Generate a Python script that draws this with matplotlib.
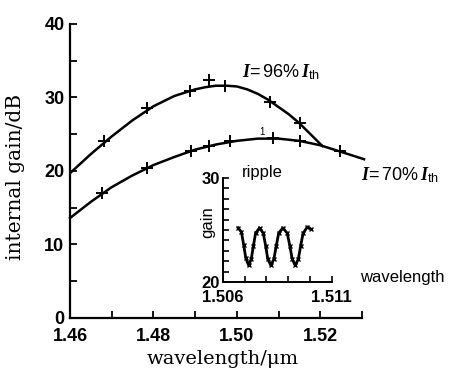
import matplotlib
matplotlib.use('Agg')
import matplotlib.pyplot as plt
from matplotlib.ticker import FixedLocator

plt.rcParams['font.family'] = 'Liberation Sans'
plt.rcParams['mathtext.fontset'] = 'custom'
plt.rcParams['mathtext.it'] = 'Liberation Serif:italic:bold'
plt.rcParams['mathtext.rm'] = 'Liberation Sans'
plt.rcParams['mathtext.bf'] = 'Liberation Sans:bold'

# fitted curves (wavelength in um, gain in dB)
wl_96 = [1.460, 1.465, 1.470, 1.475, 1.480, 1.485, 1.490, 1.4925, 1.495, 1.4975, 1.500,
         1.5025, 1.505, 1.5075, 1.510, 1.5125, 1.515, 1.5175, 1.5205]
gain_96 = [19.7, 22.3, 24.7, 26.9, 28.8, 30.2, 31.1, 31.4, 31.6, 31.6, 31.5,
           31.1, 30.5, 29.7, 28.7, 27.7, 26.5, 25.1, 23.4]
wl_70 = [1.460, 1.465, 1.470, 1.475, 1.480, 1.485, 1.490, 1.495, 1.500, 1.505,
         1.510, 1.515, 1.520, 1.525, 1.5305]
gain_70 = [13.6, 15.8, 17.8, 19.4, 20.8, 21.9, 22.9, 23.6, 24.1, 24.4,
           24.4, 24.1, 23.5, 22.6, 21.6]

# measured points
pts_wl_96 = [1.4682, 1.4785, 1.4888, 1.4934, 1.4972, 1.5080, 1.5152]
pts_gain_96 = [24.1, 28.6, 30.9, 32.4, 31.6, 29.4, 26.5]
pts_wl_70 = [1.4677, 1.4785, 1.4890, 1.4934, 1.4984, 1.5087, 1.5152, 1.5248]
pts_gain_70 = [17.0, 20.4, 22.7, 23.4, 24.1, 24.5, 24.1, 22.7]

# ripple inset
rip_wl = [1.50670, 1.50685, 1.50695, 1.50705, 1.50718, 1.50730, 1.50740, 1.50750,
          1.50768, 1.50785, 1.50796, 1.50806, 1.50820, 1.50834, 1.50845, 1.50856,
          1.50875, 1.50895, 1.50907, 1.50918, 1.50932, 1.50946, 1.50957, 1.50968,
          1.50988, 1.51003]
rip_gain = [25.2, 24.8, 23.6, 22.3, 21.6, 22.2, 23.5, 24.7,
            25.2, 24.7, 23.5, 22.2, 21.6, 22.2, 23.5, 24.7,
            25.2, 24.7, 23.5, 22.2, 21.6, 22.2, 23.5, 24.7,
            25.3, 25.1]

fig = plt.figure(figsize=(4.54, 3.71), dpi=100)
ax = fig.add_axes([0.1542, 0.1429, 0.643, 0.7925])

ax.plot(wl_96, gain_96, color='black', lw=1.8)
ax.plot(wl_70, gain_70, color='black', lw=1.8, clip_on=False)
ax.plot(pts_wl_96, pts_gain_96, '+', color='black', ms=8, mew=1.4)
ax.plot(pts_wl_70, pts_gain_70, '+', color='black', ms=8, mew=1.4)

ax.set_xlim(1.46, 1.53)
ax.set_ylim(0, 40)
ax.set_xticks([1.46, 1.47, 1.48, 1.49, 1.50, 1.51, 1.52, 1.53])
ax.set_xticklabels(['1.46', '', '1.48', '', '1.50', '', '1.52', ''])
ax.set_yticks([0, 5, 10, 15, 20, 25, 30, 35, 40])
ax.set_yticklabels(['0', '', '10', '', '20', '', '30', '', '40'])
ax.tick_params(direction='in', length=5, width=1.3, labelsize=13)
ax.tick_params(axis='x', pad=7)
ax.tick_params(axis='y', pad=4)
for lab in ax.get_xticklabels() + ax.get_yticklabels():
    lab.set_fontweight('bold')
for s in ['top', 'right']:
    ax.spines[s].set_visible(False)
for s in ['left', 'bottom']:
    ax.spines[s].set_linewidth(1.6)

ax.set_ylabel('internal gain/dB', family='DejaVu Serif', fontsize=14.5)
ax.yaxis.set_label_coords(-0.154, 0.48)
ax.set_xlabel('wavelength/\u03bcm', family='DejaVu Serif', fontsize=14)
ax.xaxis.set_label_coords(0.524, -0.11)

ax.text(1.5106, 33.5, r'$I\!=96\%\,I_{\mathrm{th}}$', fontsize=13, ha='center', va='center')
ax.text(1.5392, 19.5, r'$I\!=70\%\,I_{\mathrm{th}}$', fontsize=13, ha='center', va='center')
ax.text(1.5061, 25.3, '1', fontsize=7, ha='center', va='center')

# inset
ins = fig.add_axes([0.491, 0.2399, 0.240, 0.2803])
ins.patch.set_alpha(0)
ins.plot(rip_wl, rip_gain, color='black', lw=2)
ins.plot(rip_wl, rip_gain, 'x', color='black', ms=3, mew=1)
ins.set_xlim(1.506, 1.511)
ins.set_ylim(20, 30)
ins.set_xticks([1.506, 1.507, 1.508, 1.509, 1.510, 1.511])
ins.set_xticklabels(['1.506', '', '', '', '', '1.511'])
ins.yaxis.set_major_locator(FixedLocator(list(range(20, 31))))
ins.set_yticklabels(['20'] + [''] * 9 + ['30'])
ins.tick_params(direction='in', length=4, width=1.2, labelsize=12)
ins.tick_params(axis='x', pad=6)
ins.tick_params(axis='y', pad=2)
for lab in ins.get_xticklabels() + ins.get_yticklabels():
    lab.set_fontweight('bold')
for s in ['top', 'right']:
    ins.spines[s].set_visible(False)
for s in ['left', 'bottom']:
    ins.spines[s].set_linewidth(1.4)
ins.text(0.36, 1.05, 'ripple', transform=ins.transAxes, fontsize=12, ha='center', va='center')
ins.text(-0.14, 0.58, 'gain', transform=ins.transAxes, fontsize=12, ha='center', va='center', rotation=90)
ins.text(1.26, 0.04, 'wavelength', transform=ins.transAxes, fontsize=12, ha='left', va='center')

fig.savefig('out.png', dpi=100)
